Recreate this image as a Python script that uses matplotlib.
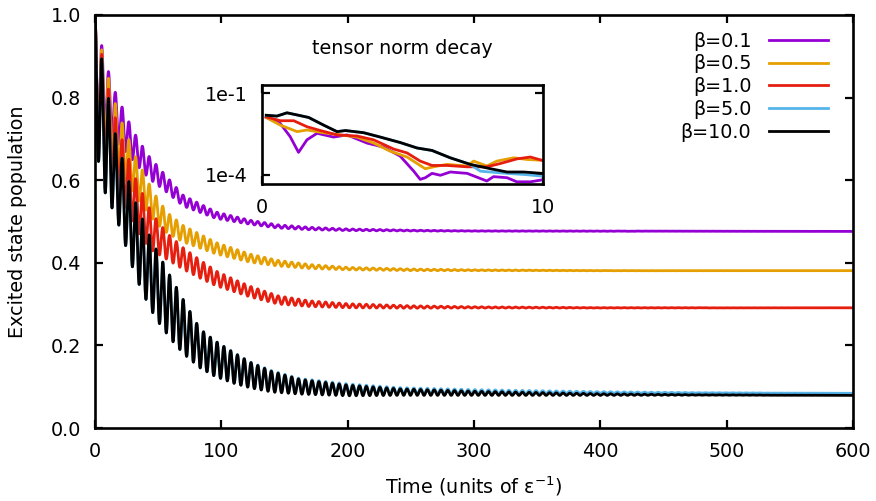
import numpy as np
import matplotlib
matplotlib.use("Agg")
import matplotlib.pyplot as plt

# ---------------- data ----------------
labels = ["β=0.1", "β=0.5", "β=1.0", "β=5.0", "β=10.0"]
colors = ["#9400D3", "#E69F00", "#E51E10", "#56B4E9", "#000000"]

osc_period = 5.37  # time units between successive population maxima

# envelope sample times, mean level and half-amplitude of oscillation
t_p = [0, 5, 10, 15, 21, 27, 32, 38, 43, 54, 70, 96, 123, 145, 170, 200, 250, 300, 600]
m_p = [0.85, 0.83, 0.79, 0.76, 0.73, 0.70, 0.675, 0.65, 0.63, 0.598, 0.55, 0.515, 0.498, 0.488, 0.483, 0.480, 0.478, 0.477, 0.476]
a_p = [0.15, 0.10, 0.08, 0.06, 0.05, 0.04, 0.035, 0.03, 0.027, 0.02, 0.013, 0.008, 0.005, 0.004, 0.003, 0.002, 0.001, 0.0005, 0.0]

t_o = [0, 5, 10, 15, 21, 27, 32, 38, 43, 48, 57, 70, 96, 123, 145, 170, 200, 250, 300, 400, 600]
m_o = [0.85, 0.80, 0.755, 0.715, 0.677, 0.642, 0.61, 0.58, 0.553, 0.53, 0.497, 0.47, 0.435, 0.411, 0.399, 0.391, 0.386, 0.383, 0.382, 0.381, 0.381]
a_o = [0.15, 0.12, 0.10, 0.08, 0.065, 0.055, 0.048, 0.042, 0.037, 0.033, 0.025, 0.02, 0.014, 0.01, 0.007, 0.005, 0.003, 0.002, 0.001, 0.0003, 0.0]

t_r = [0, 5, 10, 15, 21, 27, 32, 38, 45, 57, 70, 83, 96, 110, 123, 145, 170, 200, 250, 300, 400, 600]
m_r = [0.85, 0.78, 0.72, 0.672, 0.627, 0.584, 0.545, 0.51, 0.475, 0.44, 0.41, 0.385, 0.362, 0.345, 0.33, 0.31, 0.301, 0.296, 0.293, 0.292, 0.291, 0.291]
a_r = [0.15, 0.13, 0.11, 0.09, 0.075, 0.065, 0.06, 0.055, 0.045, 0.032, 0.026, 0.022, 0.018, 0.015, 0.013, 0.01, 0.007, 0.005, 0.003, 0.0015, 0.0005, 0.0]

t_k = [0, 5, 10, 15, 21, 27, 32, 38, 43, 50, 60, 70, 83, 95, 110, 123, 140, 162, 200, 240, 300, 400, 480, 600]
m_k = [0.85, 0.75, 0.68, 0.625, 0.565, 0.505, 0.457, 0.415, 0.38, 0.34, 0.29, 0.245, 0.193, 0.168, 0.145, 0.128, 0.112, 0.10, 0.091, 0.087, 0.084, 0.081, 0.080, 0.079]
a_k = [0.15, 0.15, 0.13, 0.10, 0.093, 0.09, 0.09, 0.088, 0.087, 0.083, 0.075, 0.065, 0.047, 0.043, 0.037, 0.031, 0.025, 0.018, 0.013, 0.008, 0.005, 0.002, 0.0005, 0.0]

t_b = t_k
m_b = [0.85, 0.75, 0.68, 0.625, 0.565, 0.505, 0.457, 0.415, 0.38, 0.34, 0.29, 0.245, 0.193, 0.168, 0.146, 0.129, 0.114, 0.102, 0.094, 0.09, 0.088, 0.086, 0.085, 0.084]
a_b = a_k

# inset: tensor norm decay (time, log10 of norm)
it_p = [0.15, 0.65, 1.0, 1.3, 1.6, 1.96, 2.55, 3.02, 3.74, 4.33, 4.92, 5.4, 5.63, 5.81, 6.05, 6.35, 6.7, 7.3, 8.0, 8.24, 8.72, 9.07, 9.55, 9.96]
il_p = [-1.89, -2.11, -2.59, -3.17, -2.71, -2.47, -2.61, -2.53, -2.83, -2.98, -3.31, -3.86, -4.16, -4.10, -3.94, -4.01, -3.89, -3.94, -4.22, -4.06, -4.10, -4.25, -4.25, -4.18]
it_o = [0.15, 0.65, 1.25, 1.6, 2.19, 2.79, 3.38, 3.97, 4.57, 5.16, 5.81, 6.11, 6.58, 7.3, 7.53, 8.0, 8.36, 8.96, 9.43, 9.96]
il_o = [-1.89, -2.17, -2.41, -2.35, -2.45, -2.53, -2.61, -2.83, -3.13, -3.34, -3.77, -3.70, -3.61, -3.67, -3.49, -3.67, -3.49, -3.37, -3.43, -3.46]
it_r = [0.15, 0.65, 1.13, 1.6, 2.08, 2.67, 3.38, 3.97, 4.69, 5.16, 5.63, 6.05, 6.58, 7.3, 8.0, 8.48, 9.07, 9.55, 9.96]
il_r = [-1.87, -2.01, -2.01, -2.23, -2.37, -2.53, -2.57, -2.71, -3.05, -3.19, -3.49, -3.65, -3.65, -3.70, -3.70, -3.58, -3.41, -3.34, -3.46]
it_k = [0.15, 0.53, 0.89, 1.3, 1.66, 2.19, 2.67, 2.97, 3.62, 4.21, 4.92, 5.52, 6.05, 6.7, 7.41, 8.13, 8.72, 9.31, 9.96]
il_k = [-1.81, -1.84, -1.72, -1.81, -1.89, -2.17, -2.41, -2.37, -2.45, -2.61, -2.81, -3.01, -3.10, -3.37, -3.61, -3.77, -3.89, -3.89, -3.94]
it_b = [0.15, 0.53, 0.89, 1.3, 1.66, 2.19, 2.67, 2.97, 3.62, 4.21, 4.92, 5.52, 6.05, 6.7, 7.41, 7.77, 8.72, 9.31, 9.96]
il_b = [-1.81, -1.84, -1.72, -1.81, -1.89, -2.17, -2.41, -2.37, -2.45, -2.61, -2.81, -3.01, -3.10, -3.37, -3.61, -3.86, -3.94, -3.98, -4.04]

# ---------------- figure ----------------
FS = 13.8
plt.rcParams["font.family"] = ["DejaVu Sans"]
plt.rcParams["font.size"] = FS

fig = plt.figure(figsize=(8.76, 5.01), dpi=100)
ax = fig.add_axes([95 / 876, 1 - 428 / 501, 758 / 876, 413 / 501])

t = np.linspace(0, 600, 24001)
main = [(t_p, m_p, a_p), (t_o, m_o, a_o), (t_r, m_r, a_r), (t_b, m_b, a_b), (t_k, m_k, a_k)]
phase = np.cos(2 * np.pi * t / osc_period)
for (tt, mm, aa), c, lab in zip(main, colors, labels):
    y = np.interp(t, tt, mm) + np.interp(t, tt, aa) * phase
    ax.plot(t, y, color=c, lw=2.0, label=lab)

ax.set_xlim(0, 600)
ax.set_ylim(0, 1.0)
ax.set_xticks(np.arange(0, 601, 100))
ax.set_yticks(np.arange(0, 1.01, 0.2))
ax.yaxis.set_major_formatter(matplotlib.ticker.FormatStrFormatter("%.1f"))
ax.tick_params(direction="in", length=6, width=1.6, top=True, right=True, labelsize=FS, pad=10)
for s in ax.spines.values():
    s.set_linewidth(1.9)
ax.set_xlabel("Time (units of ε$^{-1}$)", fontsize=FS, labelpad=10)
ax.set_ylabel("Excited state population", fontsize=FS, labelpad=17)

leg = ax.legend(loc="upper right", bbox_to_anchor=(0.967, 0.96), frameon=False,
                markerfirst=False, handlelength=3.1, handletextpad=0.9,
                labelspacing=0.2, borderpad=0, borderaxespad=0, fontsize=FS)

# inset
ins = fig.add_axes([262 / 876, 1 - 184 / 501, 281 / 876, 99 / 501])
inset = [(it_p, il_p), (it_o, il_o), (it_r, il_r), (it_b, il_b), (it_k, il_k)]
for (tt, ll), c in zip(inset, colors):
    ins.plot(tt, 10 ** np.array(ll), color=c, lw=2.0)
ins.set_yscale("log")
ins.set_xlim(0, 10)
ins.set_ylim(10 ** -4.33, 10 ** -0.7)
ins.set_xticks([0, 10])
ins.set_xticklabels(["0", "10"])
ins.set_yticks([1e-1, 1e-4])
ins.set_yticklabels(["1e-1", "1e-4"])
ins.yaxis.set_minor_locator(matplotlib.ticker.NullLocator())
ins.tick_params(direction="in", length=6, width=1.6, top=True, right=True, labelsize=FS, pad=10)
for s in ins.spines.values():
    s.set_linewidth(1.9)
fig.text(402 / 876, 1 - 48 / 501, "tensor norm decay", ha="center", va="center", fontsize=FS)

fig.savefig("out.png", dpi=100)
